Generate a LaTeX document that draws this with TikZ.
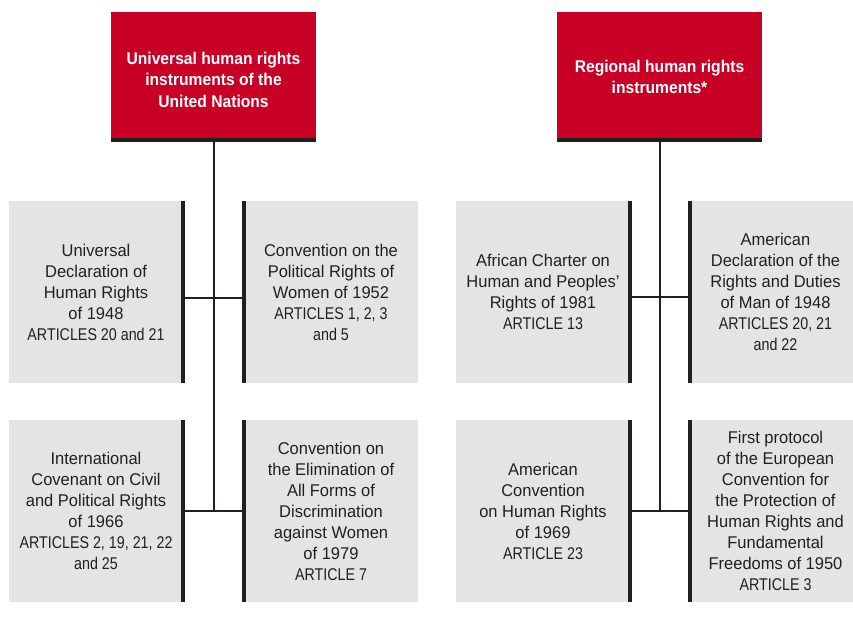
\documentclass[tikz,border=0pt]{standalone}
\usepackage{fontspec}
\setmainfont[FakeStretch=0.97]{Liberation Sans}
\newfontfamily\artfam[FakeStretch=0.84]{Liberation Sans}
\newfontfamily\titlefam[FakeStretch=0.92]{Liberation Sans}
\definecolor{unred}{RGB}{200,0,38}
\definecolor{gboxc}{RGB}{227,228,230}
\definecolor{barc}{RGB}{35,31,32}
\definecolor{txt}{RGB}{35,31,32}
\newcommand{\art}[1]{{\artfam #1}}
\newcommand{\ttl}[2]{\raisebox{#1}[\height][\depth]{\begin{tabular}{@{}c@{}}#2\end{tabular}}}
\begin{document}
\begin{tikzpicture}[x=1pt,y=-1pt,
  titlebox/.style={fill=unred, text=white, inner sep=0pt, minimum width=205pt, minimum height=126pt, align=center, font=\titlefam\bfseries\fontsize{17}{21.5}\selectfont},
  gbox/.style={fill=gboxc, inner sep=0pt, minimum width=174pt, minimum height=182pt, align=center, text=txt, font=\fontsize{17}{21}\selectfont},
  gboxr/.style={gbox, minimum width=171pt},
  bar/.style={line width=3.5pt, draw=barc},
  link/.style={line width=2pt, draw=barc}]
\useasboundingbox (0,0) rectangle (853,616);

% left group
\node[titlebox] (U) at (213.5,75) {\ttl{-6.5pt}{Universal human rights\\instruments of the\\United Nations}};
\node[gbox] (A) at (96,292) {Universal\\Declaration of\\Human Rights\\of 1948\\\art{ARTICLES 20 and 21}};
\node[gbox] (B) at (331,292) {Convention on the\\Political Rights of\\Women of 1952\\\art{ARTICLES 1, 2, 3}\\\art{and 5}};
\node[gbox] (C) at (96,511) {International\\Covenant on Civil\\and Political Rights\\of 1966\\\art{ARTICLES 2, 19, 21, 22}\\\art{and 25}};
\node[gbox] (D) at (331,511) {Convention on\\the Elimination of\\All Forms of\\Discrimination\\against Women\\of 1979\\\art{ARTICLE 7}};
\coordinate (jU1) at (213.5,298);
\coordinate (jU2) at (213.5,511);

% right group
\node[titlebox] (R) at (659.5,75) {\ttl{-3.5pt}{Regional human rights\\instruments*}};
\node[gbox] (E) at (543,292) {African Charter on\\Human and Peoples’\\Rights of 1981\\\art{ARTICLE 13}};
\node[gboxr] (F) at (775.5,292) {American\\Declaration of the\\Rights and Duties\\of Man of 1948\\\art{ARTICLES 20, 21}\\\art{and 22}};
\node[gbox] (G) at (543,511) {American\\Convention\\on Human Rights\\of 1969\\\art{ARTICLE 23}};
\node[gboxr] (H) at (775.5,511) {First protocol\\of the European\\Convention for\\the Protection of\\Human Rights and\\Fundamental\\Freedoms of 1950\\\art{ARTICLE 3}};
\coordinate (jR1) at (659.5,297);
\coordinate (jR2) at (659.5,511);

% dark bars under titles
\draw[bar, line width=4pt] ([yshift=-2pt]U.south west) -- ([yshift=-2pt]U.south east);
\draw[bar, line width=4pt] ([yshift=-2pt]R.south west) -- ([yshift=-2pt]R.south east);

% bars on inner edges
\foreach \n in {A,C,E,G} \draw[bar] (\n.north east) -- (\n.south east);
\foreach \n in {B,D,F,H} \draw[bar] (\n.north west) -- (\n.south west);

% connectors
\draw[link] ([yshift=-4pt]U.south) -- (jU2);
\draw[link] (A.east |- jU1) -- (B.west |- jU1);
\draw[link] (C.east |- jU2) -- (D.west |- jU2);
\draw[link] ([yshift=-4pt]R.south) -- (jR2);
\draw[link] (E.east |- jR1) -- (F.west |- jR1);
\draw[link] (G.east |- jR2) -- (H.west |- jR2);
\end{tikzpicture}
\end{document}
